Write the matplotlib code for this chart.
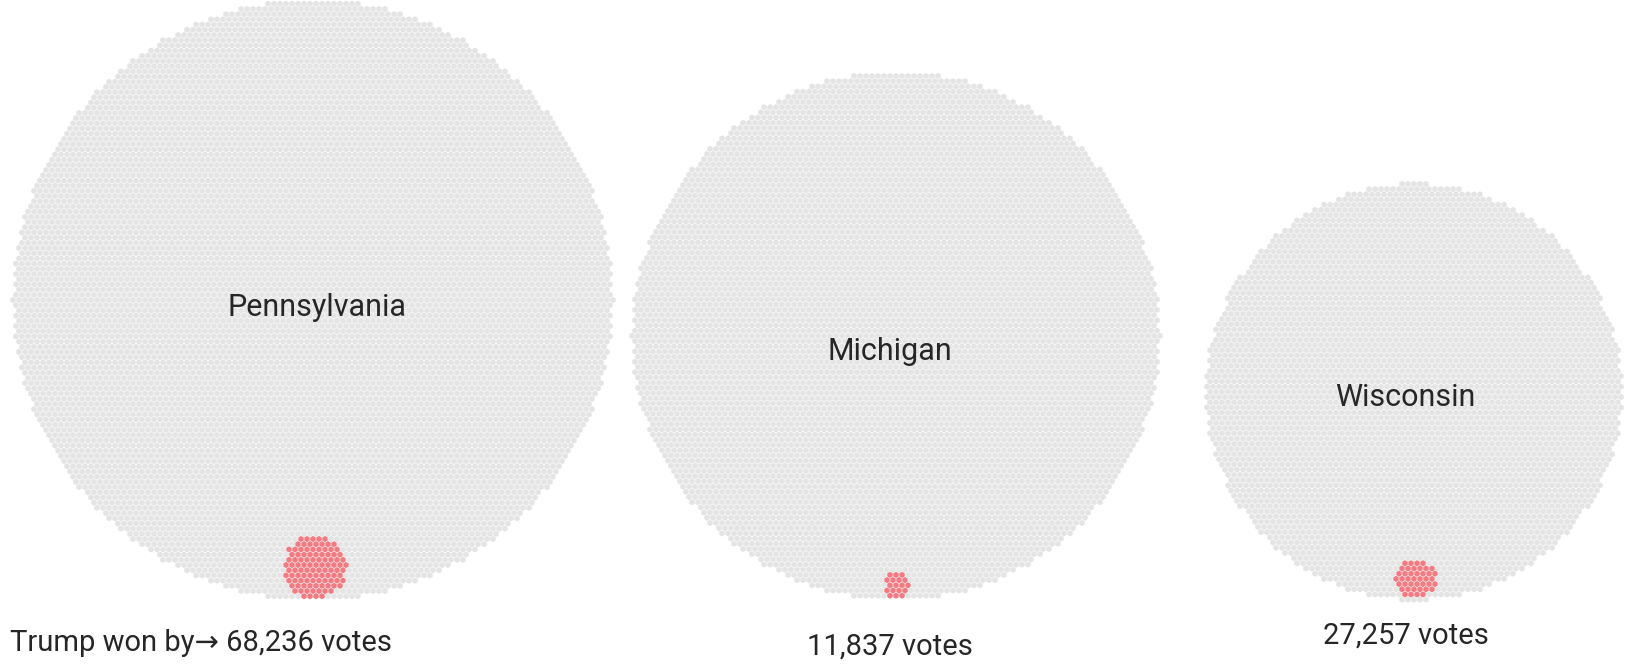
import numpy as np
import matplotlib
matplotlib.use("Agg")
import matplotlib.pyplot as plt
from matplotlib.patches import RegularPolygon
from matplotlib.collections import PatchCollection

# ---- data ----
states = ["Pennsylvania", "Michigan", "Wisconsin"]
total_votes = [6115000, 4740000, 2945000]
margins = [68236, 11837, 27257]
margin_labels = ["Trump won by\u2192 68,236 votes", "11,837 votes", "27,257 votes"]

# ---- layout (pixels) ----
W, H = 1629, 664
centers_x = [313, 896, 1414]
bottom_y = 600
scale_r = 300 / np.sqrt(total_votes[0])   # px radius per sqrt(vote)
dot = 6.0                                   # hex spacing in px
gray = "#e4e4e4"
red = "#f17b82"
text_color = "#262626"

fig = plt.figure(figsize=(W / 100, H / 100), dpi=100)
ax = fig.add_axes([0, 0, 1, 1])
ax.set_xlim(0, W)
ax.set_ylim(H, 0)
ax.set_aspect("equal")
ax.axis("off")

def hex_points(cx, cy, R, d):
    dy = d * np.sqrt(3) / 2
    pts = []
    nrows = int(R / dy) + 2
    for i in range(-nrows, nrows + 1):
        y = cy + i * dy
        off = (d / 2) if (i % 2) else 0.0
        ncols = int(R / d) + 2
        for j in range(-ncols, ncols + 1):
            x = cx + j * d + off
            if (x - cx) ** 2 + (y - cy) ** 2 <= R ** 2:
                pts.append((x, y))
    return np.array(pts)

for k, (name, tot, mar) in enumerate(zip(states, total_votes, margins)):
    R = scale_r * np.sqrt(tot)
    cx, cy = centers_x[k], bottom_y - R
    pts = hex_points(cx, cy, R, dot)
    n = len(pts)
    per_dot = tot / n
    k_red = int(round(mar / per_dot))
    r_red = R * np.sqrt(mar / tot)
    anchor = np.array([cx + 2, cy + R - r_red - 1])
    dist = np.hypot(pts[:, 0] - anchor[0], pts[:, 1] - anchor[1])
    order = np.argsort(dist)
    is_red = np.zeros(n, bool)
    is_red[order[:k_red]] = True
    patches = [RegularPolygon((x, y), numVertices=6, radius=dot * 0.52, orientation=0)
               for x, y in pts]
    colors = [red if r else gray for r in is_red]
    pc = PatchCollection(patches, facecolor=colors, edgecolor="none")
    ax.add_collection(pc)

# state labels
label_pos = [(317, 308), (890, 352), (1405, 398)]
for name, (x, y) in zip(states, label_pos):
    ax.text(x, y, name, ha="center", va="center", fontsize=22,
            color=text_color, family="Roboto")

# margin labels
ax.text(10, 643, margin_labels[0], ha="left", va="center", fontsize=21,
        color=text_color, family=["Roboto", "DejaVu Sans"])
ax.text(890, 647, margin_labels[1], ha="center", va="center", fontsize=21,
        color=text_color, family="Roboto")
ax.text(1406, 636, margin_labels[2], ha="center", va="center", fontsize=21,
        color=text_color, family="Roboto")

fig.savefig("out.png", dpi=100, facecolor="white")
